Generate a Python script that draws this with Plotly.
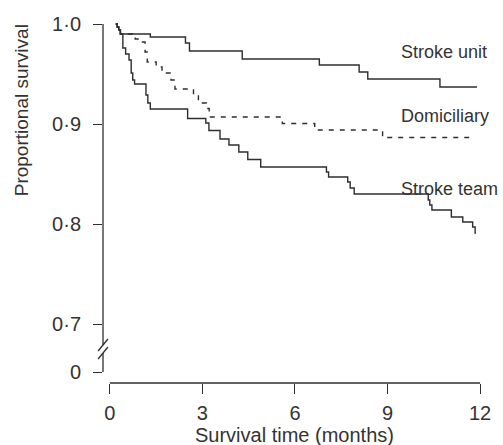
import plotly.graph_objects as go

# ---- data ----
su_t = [0.19, 0.24, 0.29, 0.34, 1.31, 2.45, 2.58, 4.29, 6.79, 8.08, 8.36, 10.70, 11.90]
su_v = [1.000, 0.997, 0.994, 0.990, 0.987, 0.981, 0.973, 0.965, 0.959, 0.952, 0.945, 0.937, 0.937]

st_t = [0.19, 0.24, 0.29, 0.34, 0.42, 0.51, 0.62, 0.69, 0.74, 0.80, 1.17, 1.23, 1.31, 2.52,
        3.11, 3.21, 3.57, 3.86, 4.18, 4.47, 4.89, 7.02, 7.09, 7.71, 7.79, 7.92, 10.32, 10.37,
        10.44, 11.07, 11.44, 11.76, 11.84, 11.87]
st_v = [1.000, 0.997, 0.994, 0.990, 0.976, 0.970, 0.964, 0.951, 0.944, 0.940, 0.929, 0.921, 0.915, 0.9055,
        0.901, 0.8935, 0.885, 0.879, 0.872, 0.8645, 0.857, 0.852, 0.847, 0.842, 0.836, 0.830, 0.824, 0.819,
        0.814, 0.807, 0.802, 0.797, 0.791, 0.791]

dm_t = [0.19, 0.24, 0.29, 0.34, 0.82, 0.96, 1.14, 1.21, 1.50, 1.69, 1.98, 2.11, 2.71, 2.87,
        3.13, 3.22, 5.59, 6.64, 8.84, 11.70]
dm_v = [1.000, 0.997, 0.994, 0.990, 0.985, 0.982, 0.972, 0.962, 0.957, 0.951, 0.944, 0.935, 0.928, 0.921,
        0.9155, 0.907, 0.9005, 0.894, 0.8865, 0.8865]

series_names = ["Stroke unit", "Domiciliary", "Stroke team"]
label_y = [0.972, 0.908, 0.835]
label_x = 9.38

x_ticks = [0, 3, 6, 9, 12]
x_ticktext = ["0", "3", "6", "9", "12"]
y_zero = 0.652  # position where the broken axis shows "0"
y_ticks = [y_zero, 0.7, 0.8, 0.9, 1.0]
y_ticktext = ["0", "0·7", "0·8", "0·9", "1·0"]

# ---- layout geometry ----
W, H = 503, 445
L, R, T, B = 103, 490, 14, 383
X_RANGE = [-0.2234, 12.128]
Y_RANGE = [0.641, 1.010]
INK = "#2e2e2e"
TXT = "#333333"
FONT = "Liberation Sans, Arial, sans-serif"


def py_paper(v):
    return (v - Y_RANGE[0]) / (Y_RANGE[1] - Y_RANGE[0])


def px_paper_x(px):
    return (px - L) / (R - L)


def px_paper_y(px):
    return (B - px) / (B - T)


fig = go.Figure()
line = dict(color=INK, width=1.4, shape="hv")
fig.add_trace(go.Scatter(x=su_t, y=su_v, mode="lines", line=line, name=series_names[0]))
fig.add_trace(go.Scatter(x=dm_t, y=dm_v, mode="lines", line=dict(line, dash="5px,6px"), name=series_names[1]))
fig.add_trace(go.Scatter(x=st_t, y=st_v, mode="lines", line=line, name=series_names[2]))

for name, yv in zip(series_names, label_y):
    fig.add_annotation(x=label_x, y=yv, text=name, showarrow=False, xanchor="left", yanchor="middle",
                       font=dict(size=18, color=TXT, family=FONT))

shapes = []
# y axis line with break
brk_hi, brk_lo = 0.679, 0.671
shapes.append(dict(type="line", xref="paper", yref="y", x0=0, x1=0, y0=brk_hi, y1=1.0,
                   line=dict(color=INK, width=1.3)))
shapes.append(dict(type="line", xref="paper", yref="y", x0=0, x1=0, y0=y_zero, y1=brk_lo,
                   line=dict(color=INK, width=1.3)))
for c in (brk_hi, brk_lo):
    shapes.append(dict(type="line", xref="paper", yref="paper",
                       x0=px_paper_x(L - 5), x1=px_paper_x(L + 5),
                       y0=py_paper(c - 0.006), y1=py_paper(c + 0.006),
                       line=dict(color=INK, width=1.3)))
# x axis line (offset below y axis)
shapes.append(dict(type="line", xref="x", yref="paper", x0=0, x1=12, y0=0, y1=0,
                   line=dict(color=INK, width=1.3)))

fig.update_layout(
    width=W, height=H,
    margin=dict(l=L, r=W - R, t=T, b=H - B),
    paper_bgcolor="white", plot_bgcolor="white",
    showlegend=False,
    shapes=shapes,
    font=dict(family=FONT, color=TXT, size=20),
    xaxis=dict(range=X_RANGE, tickmode="array", tickvals=x_ticks, ticktext=x_ticktext,
               ticks="outside", ticklen=10, tickwidth=1.3, tickcolor=INK, showline=False,
               showgrid=False, zeroline=False, tickfont=dict(size=20, color=TXT),
               ticklabelstandoff=2),
    yaxis=dict(range=Y_RANGE, tickmode="array", tickvals=y_ticks, ticktext=y_ticktext,
               ticks="outside", ticklen=9, tickwidth=1.3, tickcolor=INK, showline=False,
               showgrid=False, zeroline=False, tickfont=dict(size=20, color=TXT),
               ticklabelstandoff=8),
)

fig.add_annotation(xref="x", yref="paper", x=6, y=px_paper_y(435), text="Survival time (months)",
                   showarrow=False, xanchor="center", yanchor="middle",
                   font=dict(size=20, color=TXT, family=FONT))
fig.add_annotation(xref="paper", yref="paper", x=px_paper_x(21), y=px_paper_y(110), text="Proportional survival",
                   showarrow=False, textangle=-90, xanchor="center", yanchor="middle",
                   font=dict(size=19, color=TXT, family=FONT))

fig.write_html("out.html", config={"displayModeBar": False},
               post_script="document.body.style.margin='0';document.body.style.overflow='hidden';")
